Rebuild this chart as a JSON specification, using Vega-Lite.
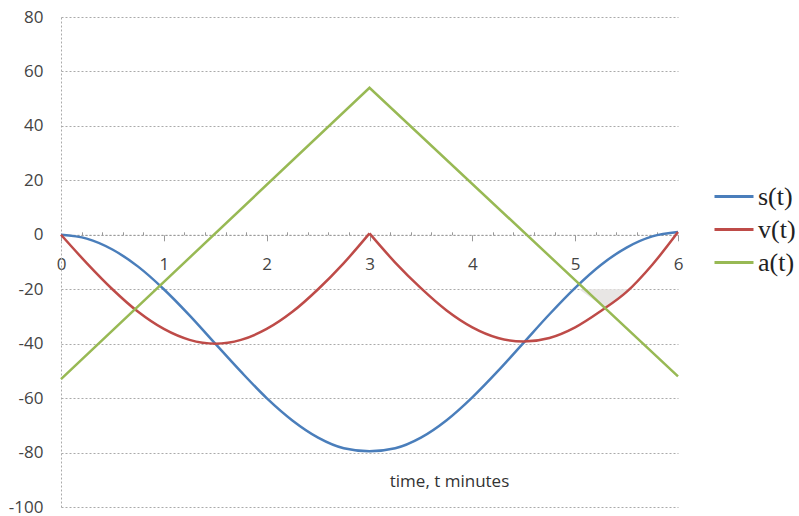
{
  "$schema": "https://vega.github.io/schema/vega-lite/v6.json",
  "width": 617,
  "height": 490,
  "autosize": {"type": "none"},
  "padding": {"left": 61, "top": 17, "right": 121, "bottom": 9},
  "background": "white",
  "config": {"view": {"stroke": null}, "font": "Open Sans"},
  "data": {
    "values": [
      {"series": "s(t)", "arc": 1, "t": 0, "value": 0},
      {"series": "s(t)", "arc": 1, "t": 0.25, "value": -1.4},
      {"series": "s(t)", "arc": 1, "t": 0.5, "value": -5.4},
      {"series": "s(t)", "arc": 1, "t": 0.75, "value": -11.7},
      {"series": "s(t)", "arc": 1, "t": 1, "value": -20},
      {"series": "s(t)", "arc": 1, "t": 1.25, "value": -29.6},
      {"series": "s(t)", "arc": 1, "t": 1.5, "value": -40},
      {"series": "s(t)", "arc": 1, "t": 1.75, "value": -50.3},
      {"series": "s(t)", "arc": 1, "t": 2, "value": -60},
      {"series": "s(t)", "arc": 1, "t": 2.25, "value": -68.2},
      {"series": "s(t)", "arc": 1, "t": 2.5, "value": -74.5},
      {"series": "s(t)", "arc": 1, "t": 2.75, "value": -78.4},
      {"series": "s(t)", "arc": 1, "t": 3, "value": -79.5},
      {"series": "s(t)", "arc": 1, "t": 3.25, "value": -78.4},
      {"series": "s(t)", "arc": 1, "t": 3.5, "value": -74.5},
      {"series": "s(t)", "arc": 1, "t": 3.75, "value": -68.1},
      {"series": "s(t)", "arc": 1, "t": 4, "value": -59.7},
      {"series": "s(t)", "arc": 1, "t": 4.25, "value": -50},
      {"series": "s(t)", "arc": 1, "t": 4.5, "value": -39.6},
      {"series": "s(t)", "arc": 1, "t": 4.75, "value": -29.2},
      {"series": "s(t)", "arc": 1, "t": 5, "value": -19.5},
      {"series": "s(t)", "arc": 1, "t": 5.25, "value": -11.1},
      {"series": "s(t)", "arc": 1, "t": 5.5, "value": -4.7},
      {"series": "s(t)", "arc": 1, "t": 5.75, "value": -0.6},
      {"series": "s(t)", "arc": 1, "t": 6, "value": 1},
      {"series": "v(t)", "arc": 1, "t": 0, "value": 0},
      {"series": "v(t)", "arc": 1, "t": 0.25, "value": -10.4},
      {"series": "v(t)", "arc": 1, "t": 0.5, "value": -20},
      {"series": "v(t)", "arc": 1, "t": 0.75, "value": -28.3},
      {"series": "v(t)", "arc": 1, "t": 1, "value": -34.6},
      {"series": "v(t)", "arc": 1, "t": 1.25, "value": -38.6},
      {"series": "v(t)", "arc": 1, "t": 1.5, "value": -40},
      {"series": "v(t)", "arc": 1, "t": 1.75, "value": -38.6},
      {"series": "v(t)", "arc": 1, "t": 2, "value": -34.6},
      {"series": "v(t)", "arc": 1, "t": 2.25, "value": -28.3},
      {"series": "v(t)", "arc": 1, "t": 2.5, "value": -20},
      {"series": "v(t)", "arc": 1, "t": 2.75, "value": -10.4},
      {"series": "v(t)", "arc": 1, "t": 3, "value": 0.5},
      {"series": "v(t)", "arc": 2, "t": 3, "value": 0.5},
      {"series": "v(t)", "arc": 2, "t": 3.25, "value": -10.2},
      {"series": "v(t)", "arc": 2, "t": 3.5, "value": -19.6},
      {"series": "v(t)", "arc": 2, "t": 3.75, "value": -27.8},
      {"series": "v(t)", "arc": 2, "t": 4, "value": -34},
      {"series": "v(t)", "arc": 2, "t": 4.25, "value": -37.9},
      {"series": "v(t)", "arc": 2, "t": 4.5, "value": -39.2},
      {"series": "v(t)", "arc": 2, "t": 4.75, "value": -37.9},
      {"series": "v(t)", "arc": 2, "t": 5, "value": -34},
      {"series": "v(t)", "arc": 2, "t": 5.25, "value": -28},
      {"series": "v(t)", "arc": 2, "t": 5.5, "value": -21},
      {"series": "v(t)", "arc": 2, "t": 5.75, "value": -11},
      {"series": "v(t)", "arc": 2, "t": 6, "value": 1},
      {"series": "a(t)", "arc": 1, "t": 0, "value": -53},
      {"series": "a(t)", "arc": 1, "t": 3, "value": 54},
      {"series": "a(t)", "arc": 1, "t": 6, "value": -52},
      {"series": "shade", "arc": 1, "t": 5.04, "value": -20, "top": -20},
      {"series": "shade", "arc": 1, "t": 5.29, "value": -27, "top": -20},
      {"series": "shade", "arc": 1, "t": 5.42, "value": -23.5, "top": -20},
      {"series": "shade", "arc": 1, "t": 5.55, "value": -20, "top": -20}
    ]
  },
  "encoding": {
    "y": {
      "field": "value", "type": "quantitative",
      "scale": {"domain": [-100, 80], "nice": false},
      "axis": {
        "values": [-100, -80, -60, -40, -20, 0, 20, 40, 60, 80],
        "grid": true, "gridDash": [2, 2], "gridColor": "#aaaaaa", "gridWidth": 1,
        "domain": true, "domainDash": [2, 2], "domainColor": "#aaaaaa",
        "ticks": false, "labelPadding": 18, "labelFontSize": 17,
        "labelColor": "#444444", "labelFont": "Open Sans",
        "labelExpr": "'' + datum.value", "title": null
      }
    }
  },
  "layer": [
    {
      "transform": [{"filter": "datum.series === 'shade'"}],
      "mark": {"type": "area", "color": "#e8e6e4", "opacity": 1},
      "encoding": {
        "x": {
          "field": "t", "type": "quantitative",
          "scale": {"domain": [0, 6], "nice": false},
          "axis": {
            "orient": "bottom", "offset": -272.2,
            "values": [0.2,0.4,0.6,0.8,1.2,1.4,1.6,1.8,2.2,2.4,2.6,2.8,3.2,3.4,3.6,3.8,4.2,4.4,4.6,4.8,5.2,5.4,5.6,5.8],
            "labels": false, "domain": false, "grid": false, "title": null,
            "tickSize": -3, "tickColor": "#999", "tickWidth": 1
          }
        },
        "y2": {"field": "top"}
      }
    },
    {
      "encoding": {
        "x": {
          "field": "t", "type": "quantitative",
          "scale": {"domain": [0, 6], "nice": false},
          "axis": {
            "orient": "bottom", "offset": -272.2,
            "values": [0, 1, 2, 3, 4, 5, 6],
            "labelFlush": false, "grid": false,
            "domainColor": "#999999", "domainDash": [2, 2],
            "tickColor": "#999999", "tickSize": 6,
            "labelPadding": 16, "labelFontSize": 17, "labelColor": "#444444", "labelFont": "Open Sans",
            "title": "time, t minutes", "titleX": 388, "titleY": 247,
            "titleBaseline": "middle", "titleAlign": "center",
            "titleFontSize": 17, "titleFontWeight": "normal", "titleColor": "#333333", "titleFont": "Open Sans"
          }
        },
        "color": {
          "field": "series", "type": "nominal",
          "scale": {"domain": ["s(t)", "v(t)", "a(t)"], "range": ["#4A7EBB", "#BE4B48", "#98B954"]},
          "legend": {
            "orient": "none", "legendX": 652, "legendY": 163, "title": null,
            "symbolType": "stroke", "symbolSize": 1521, "symbolStrokeWidth": 3,
            "labelFont": "Liberation Serif", "labelFontSize": 26, "labelColor": "#222222",
            "labelOffset": 3, "rowPadding": 0, "clipHeight": 33, "padding": 0
          }
        }
      },
      "layer": [
        {
          "transform": [{"filter": "datum.series === 's(t)'"}],
          "mark": {"type": "line", "interpolate": "monotone", "strokeWidth": 2.5}
        },
        {
          "transform": [{"filter": "datum.series === 'v(t)'"}],
          "mark": {"type": "line", "interpolate": "monotone", "strokeWidth": 2.5},
          "encoding": {"detail": {"field": "arc", "type": "nominal"}}
        },
        {
          "transform": [{"filter": "datum.series === 'a(t)'"}],
          "mark": {"type": "line", "interpolate": "linear", "strokeWidth": 2.5}
        }
      ]
    }
  ],
  "resolve": {"axis": {"x": "independent"}}
}
